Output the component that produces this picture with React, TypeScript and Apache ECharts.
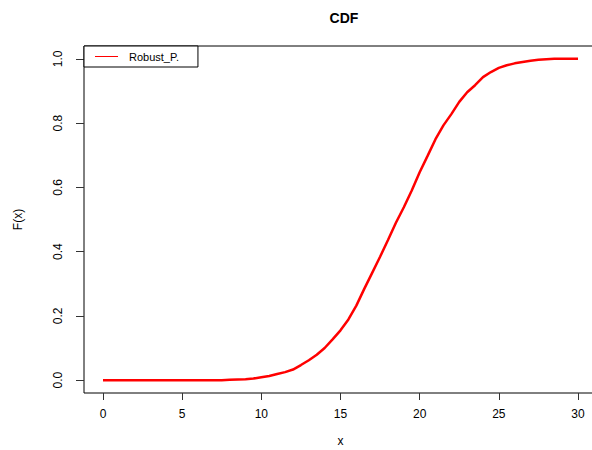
import React, { useEffect, useRef } from "react";
import * as echarts from "echarts";

const xValues = [
  0, 0.5, 1, 1.5, 2, 2.5, 3, 3.5, 4, 4.5, 5, 5.5, 6, 6.5, 7, 7.5, 8, 8.5, 9, 9.5,
  10, 10.5, 11, 11.5, 12, 12.5, 13, 13.5, 14, 14.5, 15, 15.5, 16, 16.5, 17, 17.5,
  18, 18.5, 19, 19.5, 20, 20.5, 21, 21.5, 22, 22.5, 23, 23.5, 24, 24.5, 25, 25.5,
  26, 26.5, 27, 27.5, 28, 28.5, 29, 29.5, 30,
];
const cdfValues = [
  0, 0, 0, 0, 0, 0, 0, 0, 0, 0, 0, 0, 0, 0, 0, 0, 0.001, 0.002, 0.003, 0.005,
  0.009, 0.013, 0.019, 0.025, 0.033, 0.047, 0.062, 0.079, 0.1, 0.127, 0.155, 0.189,
  0.232, 0.284, 0.334, 0.384, 0.436, 0.49, 0.538, 0.59, 0.647, 0.698, 0.75, 0.793,
  0.828, 0.866, 0.896, 0.918, 0.943, 0.959, 0.972, 0.98, 0.986, 0.99, 0.994, 0.997,
  0.999, 1.0, 1.0, 1.0, 1.0,
];
const xTicks = [0, 5, 10, 15, 20, 25, 30];
const yTicks = [0, 0.2, 0.4, 0.6, 0.8, 1.0];
const seriesName = "Robust_P.";

const FONT = "Liberation Sans, Arial, sans-serif";

export default function App() {
  const ref = useRef<HTMLDivElement>(null);
  useEffect(() => {
    if (!ref.current) return;
    const chart = echarts.init(ref.current, undefined, { renderer: "svg" });
    chart.setOption({
      animation: false,
      backgroundColor: "#ffffff",
      title: {
        text: "CDF",
        left: 339,
        top: 6,
        textAlign: "center",
        textStyle: { fontFamily: FONT, fontSize: 14, fontWeight: "bold", color: "#000" },
      },
      legend: {
        left: 84,
        top: 46,
        orient: "vertical",
        data: [{ name: seriesName, icon: "rect" }],
        itemWidth: 23,
        itemHeight: 1,
        padding: [5, 19, 5, 11],
        borderColor: "#000",
        borderWidth: 1,
        borderRadius: 0,
        backgroundColor: "#fff",
        textStyle: { fontFamily: FONT, fontSize: 11, color: "#000", padding: [0, 0, 0, 6] },
      },
      grid: {
        left: 84,
        top: 46,
        right: -5,
        bottom: 57,
        outerBoundsMode: "none",
        containLabel: false,
        show: true,
        borderColor: "#000",
        borderWidth: 1,
        backgroundColor: "transparent",
      },
      xAxis: {
        type: "value",
        min: -1.2,
        max: 31.2,
        name: "x",
        nameLocation: "middle",
        nameGap: 42,
        nameTextStyle: { fontFamily: FONT, fontSize: 12, color: "#000" },
        axisLine: { show: false, onZero: false },
        splitLine: { show: false },
        axisTick: { show: true, length: 7, customValues: xTicks, lineStyle: { color: "#333" } },
        axisLabel: {
          customValues: xTicks,
          margin: 15,
          fontFamily: FONT,
          fontSize: 12,
          color: "#000",
        },
      },
      yAxis: {
        type: "value",
        min: -0.04,
        max: 1.04,
        name: "F(x)",
        nameLocation: "middle",
        nameGap: 60,
        nameTextStyle: { fontFamily: FONT, fontSize: 12, color: "#000" },
        axisLine: { show: false, onZero: false },
        splitLine: { show: false },
        axisTick: { show: true, length: 8, customValues: yTicks, lineStyle: { color: "#333" } },
        axisLabel: {
          customValues: yTicks,
          rotate: 90,
          margin: 20,
          fontFamily: FONT,
          fontSize: 12,
          color: "#000",
          formatter: (v: number) => v.toFixed(1),
        },
      },
      series: [
        {
          name: seriesName,
          type: "line",
          data: xValues.map((x, i) => [x, cdfValues[i]]),
          symbol: "none",
          lineStyle: { color: "#ff0000", width: 2.5 },
          itemStyle: { color: "#ff0000" },
          clip: false,
        },
      ],
    });
    return () => chart.dispose();
  }, []);
  return (
    <div
      ref={ref}
      style={{ position: "fixed", left: 0, top: 0, width: 592, height: 450 }}
    />
  );
}
